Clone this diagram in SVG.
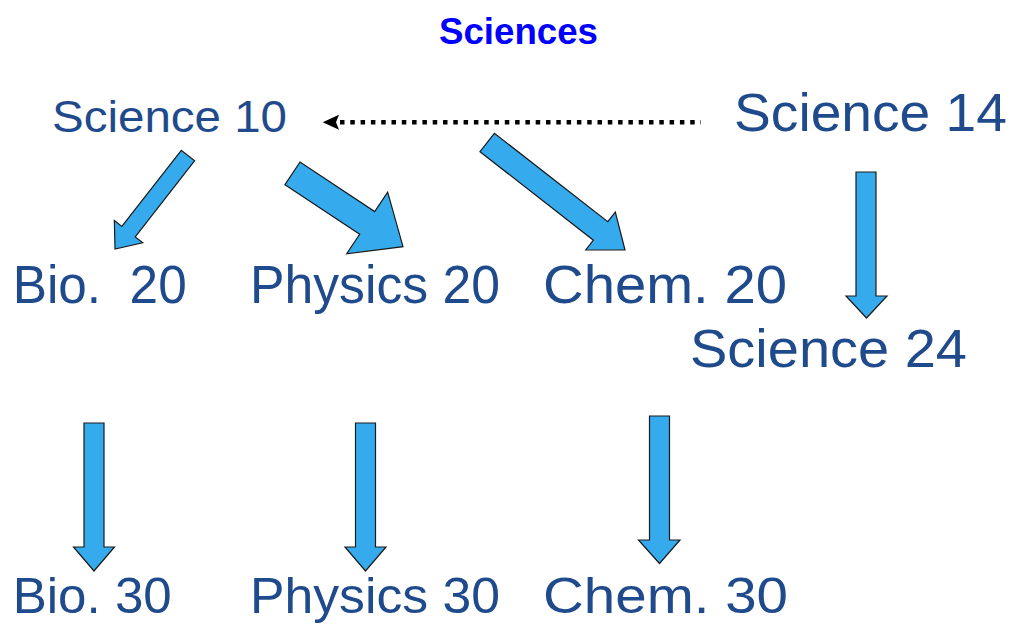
<svg xmlns="http://www.w3.org/2000/svg" width="1016" height="626" viewBox="0 0 1016 626">
  <style>
    .title { font-family: "Liberation Sans", Arial, sans-serif; font-weight: bold; font-size: 36px; fill: #0000ff; }
    .lbl { font-family: "Liberation Sans", Arial, sans-serif; fill: #1f4a8c; }
    .blk { fill: #35abee; stroke: #1a1a1a; stroke-width: 1.2; stroke-linejoin: miter; }
    .dots { stroke: #000; stroke-width: 4.5; stroke-dasharray: 4.5 5.8; fill: none; }
  </style>
  <rect x="0" y="0" width="1016" height="626" fill="#ffffff"/>
  <text class="title" x="439" y="44" textLength="159" lengthAdjust="spacingAndGlyphs">Sciences</text>

  <g id="connectors">
    <line class="dots" x1="340" y1="122.3" x2="701" y2="122.3"/>
    <polygon points="322.7,122.3 339,114.8 336,122.3 339,129.8" fill="#000"/>
    <polygon class="blk" points="194.70,160.73 135.24,236.89 142.73,242.74 115,249 114.35,220.58 121.84,226.43 181.30,150.27"/>
    <polygon class="blk" points="284.98,184.63 359.66,234.24 346.71,253.73 403,246.7 387.65,192.09 374.70,211.58 300.02,161.97"/>
    <polygon class="blk" points="480.00,151.73 593.36,240.16 585.80,249.85 625,250 615.32,212.01 607.76,221.70 494.40,133.27"/>
    <polygon class="blk" points="856,172 876,172 876,296 887,296 866.5,318 846,296 856,296"/>
    <polygon class="blk" points="84,423 104,423 104,547 114.5,547 94,571 73.5,547 84,547"/>
    <polygon class="blk" points="355.5,423 375.5,423 375.5,547 386,547 365.5,571 345,547 355.5,547"/>
    <polygon class="blk" points="649.5,416 669.5,416 669.5,540 680,540 659.5,563.5 638.5,540 649.5,540"/>
  </g>

  <g id="science10"><text class="lbl" x="52" y="132" font-size="45" textLength="235" lengthAdjust="spacingAndGlyphs">Science 10</text></g>
  <g id="science14"><text class="lbl" x="734" y="131" font-size="54" textLength="273" lengthAdjust="spacingAndGlyphs">Science 14</text></g>
  <g id="bio20"><text class="lbl" x="12.7" y="303.3" font-size="53" textLength="174" lengthAdjust="spacingAndGlyphs" xml:space="preserve">Bio.  20</text></g>
  <g id="physics20"><text class="lbl" x="250" y="303.3" font-size="53" textLength="250" lengthAdjust="spacingAndGlyphs">Physics 20</text></g>
  <g id="chem20"><text class="lbl" x="543" y="303.3" font-size="53" textLength="244" lengthAdjust="spacingAndGlyphs">Chem. 20</text></g>
  <g id="science24"><text class="lbl" x="690" y="366.7" font-size="54" textLength="277" lengthAdjust="spacingAndGlyphs">Science 24</text></g>
  <g id="bio30"><text class="lbl" x="12.7" y="613" font-size="50" textLength="159" lengthAdjust="spacingAndGlyphs">Bio. 30</text></g>
  <g id="physics30"><text class="lbl" x="250" y="613" font-size="50" textLength="250" lengthAdjust="spacingAndGlyphs">Physics 30</text></g>
  <g id="chem30"><text class="lbl" x="543" y="613" font-size="50" textLength="245" lengthAdjust="spacingAndGlyphs">Chem. 30</text></g>
</svg>
